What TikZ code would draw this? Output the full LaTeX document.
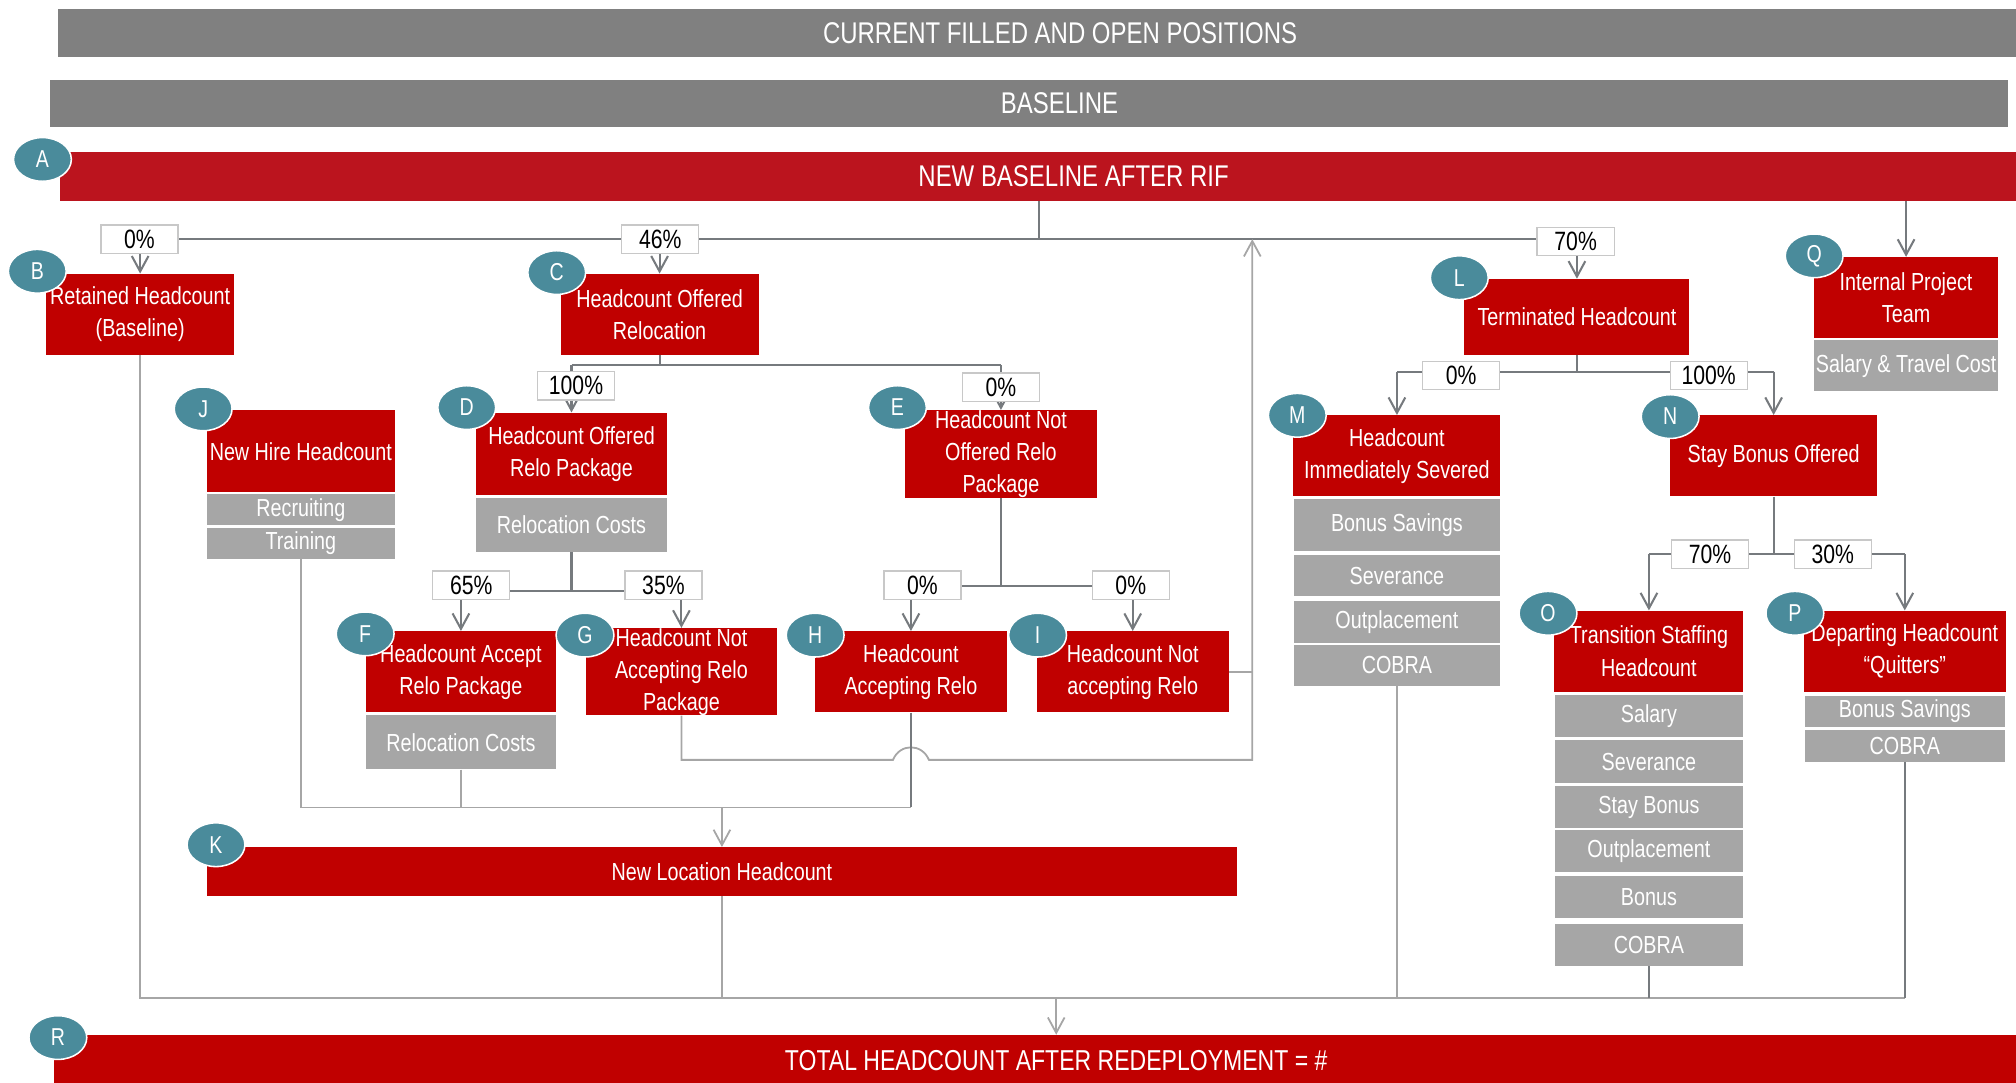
\documentclass[tikz,border=0pt]{standalone}
\usepackage{fontspec}
\setmainfont{Liberation Sans}[FakeStretch=0.8]
\usetikzlibrary{positioning,shapes.geometric,arrows.meta,backgrounds}
\definecolor{boxred}{RGB}{192,0,0}
\definecolor{rifred}{RGB}{187,20,30}
\definecolor{bargray}{RGB}{128,128,128}
\definecolor{itemgray}{RGB}{166,166,166}
\definecolor{badgeteal}{RGB}{74,139,155}
\definecolor{linedark}{RGB}{118,122,126}
\definecolor{linelight}{RGB}{166,166,166}
\definecolor{pctframe}{RGB}{200,200,200}
\newcommand\boxfont{\fontsize{19.2}{25}\selectfont}
\newcommand\barfont{\fontsize{23.3}{28}\selectfont}
\newcommand\totalfont{\fontsize{22.4}{27}\selectfont}
\newcommand\pctfont{\fontsize{20.6}{23}\selectfont}
\newcommand\badgefont{\fontsize{19}{22}\selectfont}

\begin{document}
\begin{tikzpicture}[
    x=1pt, y=-1pt,   % one unit per pixel, y runs downwards
    >={Straight Barb[length=12pt,width=13pt]},
    bar/.style = {fill=#1, text=white, font=\barfont, inner sep=0pt, minimum height=38pt},
    box/.style = {fill=boxred, text=white, font=\boxfont, align=center, inner sep=0pt},
    item/.style = {fill=itemgray, text=white, font=\boxfont, inner sep=0pt, minimum width=#1},
    badge/.style = {ellipse, fill=badgeteal, draw=white, line width=1.2pt, text=white,
      font=\badgefont, minimum width=45pt, minimum height=34pt, inner sep=0pt},
    pct/.style = {fill=white, draw=pctframe, line width=1pt, font=\pctfont,
      minimum width=60pt, minimum height=22pt, inner sep=0pt},
    link/.style = {draw=linedark, line width=1.6pt},
    lite/.style = {draw=linelight, line width=1.4pt}
  ]
    \useasboundingbox (0,0) rectangle (1568,842);

    % header bars
    \node[bar=bargray, minimum width=1559pt, minimum height=37pt] (cur) at (824.5,25.5) {CURRENT FILLED AND OPEN POSITIONS};
    \node[bar=bargray, minimum width=1523pt, minimum height=37pt] (base) at (800.5,80.5) {};
    \node[text=white, font=\barfont] (baseT) at (824,80.5) {BASELINE};
    \node[bar=rifred, minimum width=1576pt] (A) at (835,137) {NEW BASELINE AFTER RIF};

    % first level
    \node[box, minimum width=146pt, minimum height=63pt] (B) at (109,244.5) {Retained Headcount\\(Baseline)};
    \node[box, minimum width=154pt, minimum height=63pt] (C) at (513,244.5) {Headcount Offered\\Relocation};
    \node[box, minimum width=175pt, minimum height=59pt] (L) at (1226.5,246.5) {Terminated Headcount};
    \node[box, minimum width=143pt, minimum height=63pt] (Q) at (1482.5,231.5) {Internal Project\\Team};
    \node[item=143pt, minimum height=40pt, below=1pt of Q] (Q1) {Salary \& Travel Cost};

    % second level
    \node[box, minimum width=146pt, minimum height=64pt] (J) at (234,351) {New Hire Headcount};
    \node[item=146pt, minimum height=24pt, below=1pt of J] (J1) {Recruiting};
    \node[item=146pt, minimum height=24pt, below=2pt of J1] (J2) {Training};
    \node[box, minimum width=149pt, minimum height=64pt] (D) at (444.5,353) {Headcount Offered\\Relo Package};
    \node[item=149pt, minimum height=42pt, below=2pt of D] (D1) {Relocation Costs};
    \node[box, minimum width=149pt, minimum height=64pt] (E) at (778.5,353) {Headcount Not\\Offered Relo\\Package};
    \node[box, minimum width=161pt, minimum height=63pt] (M) at (1086.5,354.5) {Headcount\\Immediately Severed};
    \node[item=160pt, minimum height=40pt, below=2pt of M] (M1) {Bonus Savings};
    \node[item=160pt, minimum height=32pt, below=3pt of M1] (M2) {Severance};
    \node[item=160pt, minimum height=33pt, below=3pt of M2] (M3) {Outplacement};
    \node[item=160pt, minimum height=32pt, below=1pt of M3] (M4) {COBRA};
    \node[box, minimum width=161pt, minimum height=63pt] (N) at (1379.5,354.5) {Stay Bonus Offered};

    % third level
    \node[box, minimum width=148pt, minimum height=63pt] (F) at (358.5,522.5) {Headcount Accept\\Relo Package};
    \node[item=148pt, minimum height=42pt, below=2pt of F] (F1) {Relocation Costs};
    \node[box, minimum width=148pt, minimum height=63pt] (G) at (530,522.5) {Headcount Not\\Accepting Relo\\Package};
    \node[box, minimum width=149pt, minimum height=63pt] (H) at (708.5,522.5) {Headcount\\Accepting Relo};
    \node[box, minimum width=149pt, minimum height=63pt] (I) at (881,522.5) {Headcount Not\\accepting Relo};
    \node[box, minimum width=147pt, minimum height=63pt] (O) at (1282.5,506.5) {Transition Staffing\\Headcount};
    \node[item=146pt, minimum height=33pt, below=2pt of O] (O1) {Salary};
    \node[item=146pt, minimum height=33pt, below=2pt of O1] (O2) {Severance};
    \node[item=146pt, minimum height=33pt, below=2pt of O2] (O3) {Stay Bonus};
    \node[item=146pt, minimum height=33pt, below=1pt of O3] (O4) {Outplacement};
    \node[item=146pt, minimum height=33pt, below=2pt of O4] (O5) {Bonus};
    \node[item=146pt, minimum height=33pt, below=4pt of O5] (O6) {COBRA};
    \node[box, minimum width=157pt, minimum height=63pt] (P) at (1481.5,506.5) {Departing Headcount\\“Quitters”};
    \node[item=156pt, minimum height=24pt, below=3pt of P] (P1) {Bonus Savings};
    \node[item=156pt, minimum height=25pt, below=2pt of P1] (P2) {COBRA};

    % bottom bars
    \node[box, minimum width=801pt, minimum height=38pt] (K) at (561.5,678) {New Location Headcount};
    \node[bar=boxred, font=\totalfont, minimum width=1559pt, minimum height=40pt] (R) at (821.5,825) {TOTAL HEADCOUNT AFTER REDEPLOYMENT = \#};

    % letter badges
    \foreach \n/\x/\y in {A/33/124, B/29/211, C/433/212, J/158/318, D/363/317, E/698/317,
        F/284/493, G/455/494, H/634/494, I/807/494, K/168/657, R/45/807,
        L/1135/216, M/1009/323, N/1299/324, O/1204/477, P/1396/477, Q/1411/199}
      \node[badge] (b\n) at (\x,\y) {\n};

    % split shares
    \node[pct] (pB) at (108.5,186) {0\%};
    \node[pct] (pC) at (513.5,186) {46\%};
    \node[pct] (pL) at (1225.5,188) {70\%};
    \node[pct] (pD) at (448,300) {100\%};
    \node[pct] (pE) at (778.5,301) {0\%};
    \node[pct] (pF) at (366.5,455) {65\%};
    \node[pct] (pG) at (516,455) {35\%};
    \node[pct] (pH) at (717.5,455) {0\%};
    \node[pct] (pI) at (879.5,455) {0\%};
    \node[pct] (pM) at (1136.5,292) {0\%};
    \node[pct] (pN) at (1329,292) {100\%};
    \node[pct] (pO) at (1330,431) {70\%};
    \node[pct] (pP) at (1425.5,431) {30\%};

    \begin{scope}[on background layer]
      % out of the new baseline
      \coordinate (jA) at (808,186);
      \draw[link] (A.south -| jA) -- (jA);
      \draw[link] (pB.center) -- (pB.center -| pL.center);
      \draw[link,->] (B.north |- pB.south) -- (B.north);
      \draw[link,->] (C.north |- pC.south) -- (C.north);
      \draw[link,->] (L.north |- pL.south) -- (L.north);
      \draw[link,->] (A.south -| Q.north) -- (Q.north);

      % relocation split
      \coordinate (jC) at (513,284);
      \draw[link] (C.south) -- (jC);
      \draw[link] (D.north |- jC) -- (E.north |- jC);
      \draw[link,->] (D.north |- jC) -- (D.north);
      \draw[link,->] (E.north |- jC) -- (E.north);

      % package split
      \coordinate (jD) at (444.5,459.5);
      \draw[link] (D1.south) -- (jD);
      \draw[link] (F.north |- jD) -- (G.north |- jD);
      \draw[link,->] (F.north |- jD) -- (F.north);
      \draw[link,->] (G.north |- jD) -- (G.north);

      \coordinate (jE) at (778.5,456);
      \draw[link] (E.south) -- (jE);
      \draw[link] (H.north |- jE) -- (I.north |- jE);
      \draw[link,->] (H.north |- jE) -- (H.north);
      \draw[link,->] (I.north |- jE) -- (I.north);

      % terminated split
      \coordinate (jL) at (1226.5,289);
      \draw[link] (L.south) -- (jL);
      \draw[link] (M.north |- jL) -- (N.north |- jL);
      \draw[link,->] (M.north |- jL) -- (M.north);
      \draw[link,->] (N.north |- jL) -- (N.north);

      \coordinate (jN) at (1379.5,431);
      \draw[link] (N.south) -- (jN);
      \draw[link] (O.north |- jN) -- (P.north |- jN);
      \draw[link,->] (O.north |- jN) -- (O.north);
      \draw[link,->] (P.north |- jN) -- (P.north);

      % not accepting goes back up
      \coordinate (jG) at (974,591);
      \draw[lite,->] (G.south) |- (694.5,591) .. controls (700,578) and (717,578) .. (722.5,591) -- (jG) -- (jG |- jA);
      \draw[lite] (I.east) -- (I.east -| jG);

      % into new location
      \coordinate (jK) at (561.5,628);
      \draw[link] (H.south) -- (H.south |- jK);
      \draw[lite] (J2.south) |- (H.south |- jK);
      \draw[lite] (F1.south) -- (F1.south |- jK);
      \draw[lite,->] (jK) -- (K.north);

      % into the total
      \coordinate (jT) at (821.5,776);
      \draw[lite] (B.south) |- (P2.south |- jT);
      \draw[lite] (K.south) -- (K.south |- jT);
      \draw[lite] (M4.south) -- (M4.south |- jT);
      \draw[link] (O6.south) -- (O6.south |- jT);
      \draw[link] (P2.south) -- (P2.south |- jT);
      \draw[lite,->] (jT) -- (R.north);
    \end{scope}
  \end{tikzpicture}
\end{document}
